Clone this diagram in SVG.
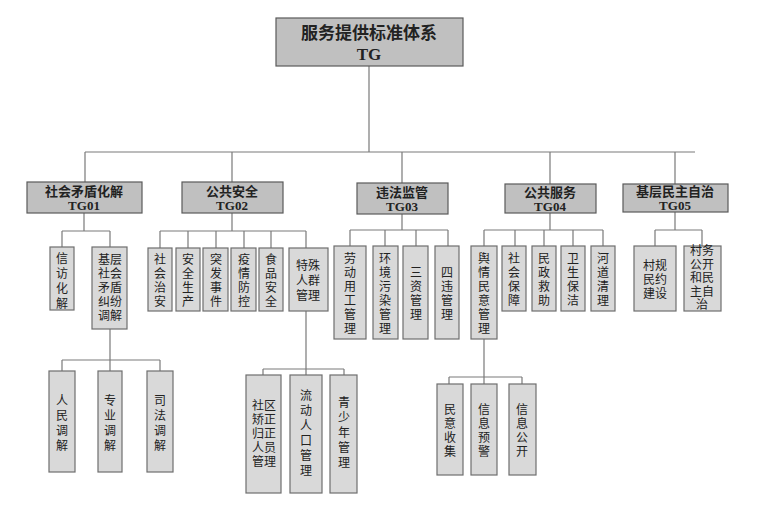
<svg xmlns="http://www.w3.org/2000/svg" width="779" height="512" viewBox="0 0 779 512">
<style>
.b{fill:#d9d9d9;stroke:#6e6e6e;stroke-width:1.2}
.h{fill:#c0c0c0;stroke:#5a5a5a;stroke-width:1.2}
text{font-family:"Noto Sans CJK SC",sans-serif;font-size:12px;fill:#222;text-anchor:middle}
.t{font-size:13px;font-weight:bold}
.c{font-family:"Liberation Serif","Noto Sans CJK SC",serif;font-weight:bold;font-size:13px}
.l{fill:none;stroke:#7a7a7a;stroke-width:1.2}
</style>
<rect width="779" height="512" fill="#fff"/>
<g id="connectors" class="l">
<path d="M369 66V152M85 152H695M85 152V182M232 152V182M402 152V183M550 152V184M675 152V184"/>
<path d="M84 213V231M62 231H110M62 231V247M110 231V247M110 329V360M62 360H160M62 360V371M110 360V371M160 360V371"/>
<path d="M232 213V231M160 231H306M160 231V248M188 231V248M216 231V248M244 231V248M271 231V248M306 231V248M306 311V369M263 369H344M263 369V375M306 369V375M344 369V375"/>
<path d="M402 214V230M350 230H448M350 230V246M385 230V246M416 230V246M448 230V246"/>
<path d="M550 213V230M484 230H603M484 230V246M515 230V246M544 230V246M573 230V246M603 230V246M484 339V377M449 377H522M449 377V384M484 377V384M522 377V384"/>
<path d="M675 212V230M655 230H702M655 230V246M702 230V246"/>
</g>
<g id="root"><rect class="h" x="276" y="18" width="187" height="48"/><text x="369" y="39" style="font-size:17px;font-weight:bold">服务提供标准体系<tspan class="c" x="369" dy="21" style="font-size:17px">TG</tspan></text></g>
<g id="TG01"><rect class="h" x="27" y="182" width="115" height="31"/><text class="t" x="84" y="196">社会矛盾化解<tspan class="c" x="84" dy="14">TG01</tspan></text></g>
<g id="TG02"><rect class="h" x="182" y="182" width="101" height="31"/><text class="t" x="232" y="196">公共安全<tspan class="c" x="232" dy="14">TG02</tspan></text></g>
<g id="TG03"><rect class="h" x="357" y="183" width="91" height="31"/><text class="t" x="402" y="197">违法监管<tspan class="c" x="402" dy="14">TG03</tspan></text></g>
<g id="TG04"><rect class="h" x="505" y="184" width="91" height="29"/><text class="t" x="550" y="197">公共服务<tspan class="c" x="550" dy="14">TG04</tspan></text></g>
<g id="TG05"><rect class="h" x="623" y="184" width="105" height="28"/><text class="t" x="675" y="196">基层民主自治<tspan class="c" x="675" dy="14">TG05</tspan></text></g>

<g id="n1"><rect class="b" x="50" y="247" width="24" height="63"/><text x="62" y="263">信<tspan x="62" dy="15">访</tspan><tspan x="62" dy="15">化</tspan><tspan x="62" dy="15">解</tspan></text></g>
<g id="n2"><rect class="b" x="92" y="247" width="35" height="82"/><text x="110" y="264">基层<tspan x="110" dy="14">社会</tspan><tspan x="110" dy="14">矛盾</tspan><tspan x="110" dy="14">纠纷</tspan><tspan x="110" dy="14">调解</tspan></text></g>
<g id="n3"><rect class="b" x="49" y="371" width="26" height="101"/><text x="62" y="405">人<tspan x="62" dy="15">民</tspan><tspan x="62" dy="15">调</tspan><tspan x="62" dy="15">解</tspan></text></g>
<g id="n4"><rect class="b" x="98" y="371" width="24" height="101"/><text x="110" y="405">专<tspan x="110" dy="15">业</tspan><tspan x="110" dy="15">调</tspan><tspan x="110" dy="15">解</tspan></text></g>
<g id="n5"><rect class="b" x="147" y="371" width="26" height="101"/><text x="160" y="405">司<tspan x="160" dy="15">法</tspan><tspan x="160" dy="15">调</tspan><tspan x="160" dy="15">解</tspan></text></g>

<g id="n6"><rect class="b" x="148" y="248" width="24" height="63"/><text x="160" y="264">社<tspan x="160" dy="14">会</tspan><tspan x="160" dy="14">治</tspan><tspan x="160" dy="14">安</tspan></text></g>
<g id="n7"><rect class="b" x="176" y="248" width="24" height="63"/><text x="188" y="264">安<tspan x="188" dy="14">全</tspan><tspan x="188" dy="14">生</tspan><tspan x="188" dy="14">产</tspan></text></g>
<g id="n8"><rect class="b" x="203" y="248" width="25" height="63"/><text x="216" y="264">突<tspan x="216" dy="14">发</tspan><tspan x="216" dy="14">事</tspan><tspan x="216" dy="14">件</tspan></text></g>
<g id="n9"><rect class="b" x="231" y="248" width="25" height="63"/><text x="244" y="264">疫<tspan x="244" dy="14">情</tspan><tspan x="244" dy="14">防</tspan><tspan x="244" dy="14">控</tspan></text></g>
<g id="n10"><rect class="b" x="259" y="248" width="24" height="63"/><text x="271" y="264">食<tspan x="271" dy="14">品</tspan><tspan x="271" dy="14">安</tspan><tspan x="271" dy="14">全</tspan></text></g>
<g id="n11"><rect class="b" x="289" y="248" width="39" height="63"/><text x="308" y="270">特殊<tspan x="308" dy="15">人群</tspan><tspan x="308" dy="15">管理</tspan></text></g>
<g id="n12"><rect class="b" x="246" y="375" width="35" height="118"/><text x="264" y="410">社区<tspan x="264" dy="14">矫正</tspan><tspan x="264" dy="14">归正</tspan><tspan x="264" dy="14">人员</tspan><tspan x="264" dy="14">管理</tspan></text></g>
<g id="n13"><rect class="b" x="290" y="375" width="32" height="118"/><text x="306" y="400">流<tspan x="306" dy="15">动</tspan><tspan x="306" dy="15">人</tspan><tspan x="306" dy="15">口</tspan><tspan x="306" dy="15">管</tspan><tspan x="306" dy="15">理</tspan></text></g>
<g id="n14"><rect class="b" x="330" y="375" width="27" height="118"/><text x="344" y="407">青<tspan x="344" dy="15">少</tspan><tspan x="344" dy="15">年</tspan><tspan x="344" dy="15">管</tspan><tspan x="344" dy="15">理</tspan></text></g>

<g id="n15"><rect class="b" x="334" y="246" width="32" height="93"/><text x="350" y="263">劳<tspan x="350" dy="14">动</tspan><tspan x="350" dy="14">用</tspan><tspan x="350" dy="14">工</tspan><tspan x="350" dy="14">管</tspan><tspan x="350" dy="14">理</tspan></text></g>
<g id="n16"><rect class="b" x="373" y="246" width="25" height="93"/><text x="385" y="263">环<tspan x="385" dy="14">境</tspan><tspan x="385" dy="14">污</tspan><tspan x="385" dy="14">染</tspan><tspan x="385" dy="14">管</tspan><tspan x="385" dy="14">理</tspan></text></g>
<g id="n17"><rect class="b" x="403" y="246" width="25" height="93"/><text x="416" y="277">三<tspan x="416" dy="14">资</tspan><tspan x="416" dy="14">管</tspan><tspan x="416" dy="14">理</tspan></text></g>
<g id="n18"><rect class="b" x="435" y="246" width="24" height="93"/><text x="447" y="277">四<tspan x="447" dy="14">违</tspan><tspan x="447" dy="14">管</tspan><tspan x="447" dy="14">理</tspan></text></g>

<g id="n19"><rect class="b" x="471" y="246" width="26" height="93"/><text x="484" y="263">舆<tspan x="484" dy="14">情</tspan><tspan x="484" dy="14">民</tspan><tspan x="484" dy="14">意</tspan><tspan x="484" dy="14">管</tspan><tspan x="484" dy="14">理</tspan></text></g>
<g id="n20"><rect class="b" x="502" y="246" width="24" height="65"/><text x="514" y="263">社<tspan x="514" dy="14">会</tspan><tspan x="514" dy="14">保</tspan><tspan x="514" dy="14">障</tspan></text></g>
<g id="n21"><rect class="b" x="532" y="246" width="24" height="65"/><text x="544" y="263">民<tspan x="544" dy="14">政</tspan><tspan x="544" dy="14">救</tspan><tspan x="544" dy="14">助</tspan></text></g>
<g id="n22"><rect class="b" x="561" y="246" width="24" height="65"/><text x="573" y="263">卫<tspan x="573" dy="14">生</tspan><tspan x="573" dy="14">保</tspan><tspan x="573" dy="14">洁</tspan></text></g>
<g id="n23"><rect class="b" x="591" y="246" width="24" height="65"/><text x="603" y="263">河<tspan x="603" dy="14">道</tspan><tspan x="603" dy="14">清</tspan><tspan x="603" dy="14">理</tspan></text></g>
<g id="n24"><rect class="b" x="437" y="384" width="26" height="91"/><text x="450" y="414">民<tspan x="450" dy="14">意</tspan><tspan x="450" dy="14">收</tspan><tspan x="450" dy="14">集</tspan></text></g>
<g id="n25"><rect class="b" x="471" y="384" width="26" height="91"/><text x="484" y="414">信<tspan x="484" dy="14">息</tspan><tspan x="484" dy="14">预</tspan><tspan x="484" dy="14">警</tspan></text></g>
<g id="n26"><rect class="b" x="509" y="384" width="27" height="91"/><text x="522" y="414">信<tspan x="522" dy="14">息</tspan><tspan x="522" dy="14">公</tspan><tspan x="522" dy="14">开</tspan></text></g>

<g id="n27"><rect class="b" x="634" y="246" width="42" height="65"/><text x="655" y="270">村规<tspan x="655" dy="14">民约</tspan><tspan x="655" dy="14">建设</tspan></text></g>
<g id="n28"><rect class="b" x="684" y="246" width="37" height="65"/><text x="702" y="255">村务<tspan x="702" dy="13.5">公开</tspan><tspan x="702" dy="13.5">和民</tspan><tspan x="702" dy="13.5">主自</tspan><tspan x="702" dy="13.5">治</tspan></text></g>
</svg>
